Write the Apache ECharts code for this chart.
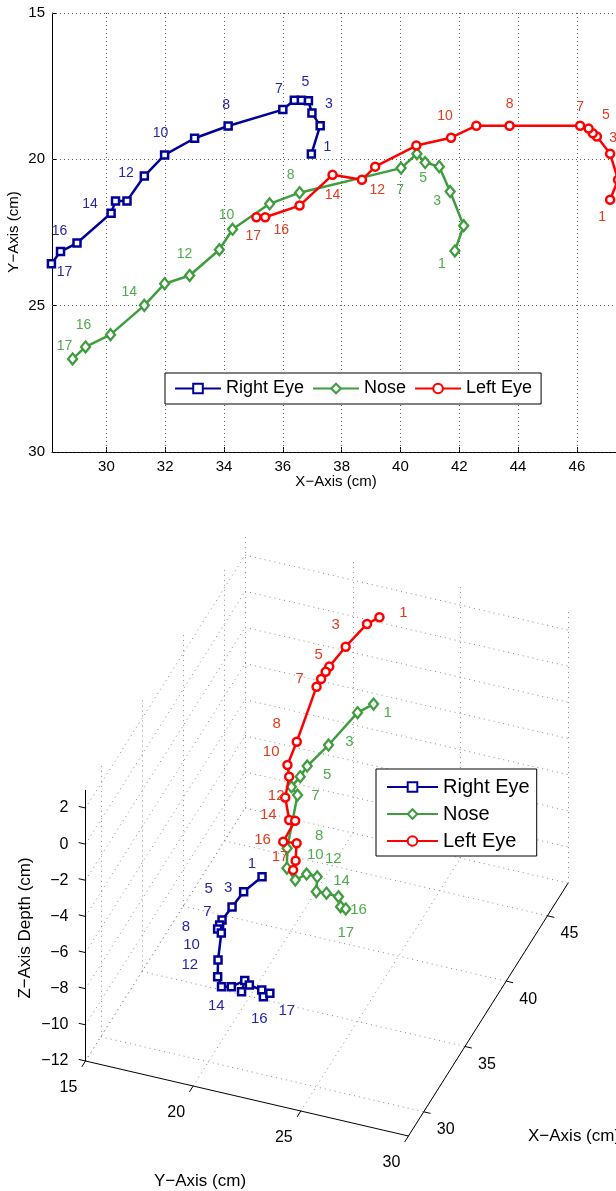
<!DOCTYPE html>
<html><head><meta charset="utf-8">
<script src="https://cdn.jsdelivr.net/npm/echarts@6/dist/echarts.min.js"></script>
<style>html,body{margin:0;padding:0;overflow:hidden;background:#fff}#c{width:640px;height:1191px}</style>
</head><body><div id="c"></div><script>
// ---------------- data ----------------
const SERIES_NAMES = ['Right Eye', 'Nose', 'Left Eye'];
const POINT_NUMBERS = [1,2,3,4,5,6,7,8,9,10,11,12,13,14,15,16,17];
const LABELLED_POINTS = [1,3,5,7,8,10,12,14,16,17];

const rightEyeX = [36.97,37.27,36.99,36.87,36.63,36.39,36.00,34.14,33.00,31.98,31.29,30.70,30.31,30.16,29.00,28.44,28.13];
const rightEyeY = [19.82,18.85,18.42,18.00,17.98,17.98,18.30,18.86,19.28,19.85,20.57,21.42,21.42,21.84,22.86,23.15,23.57];
const rightEyeZ = [-6.85,-8.16,-8.92,-9.68,-9.78,-9.83,-9.68,-9.68,-9.66,-9.32,-8.62,-7.62,-7.95,-7.36,-6.51,-6.40,-5.87];

const noseX = [41.85,42.15,41.69,41.32,40.84,40.56,40.02,36.57,35.55,34.29,33.84,32.83,31.98,31.29,30.14,29.29,28.85];
const noseY = [23.13,22.27,21.10,20.25,20.11,19.81,20.30,21.14,21.52,22.39,23.09,23.97,24.25,24.99,25.99,26.41,26.82];
const noseZ = [0.09,-0.84,-2.62,-3.75,-4.03,-4.47,-4.40,-4.62,-4.88,-4.38,-3.53,-2.71,-2.84,-2.22,-1.31,-1.13,-0.82];

const leftEyeX = [47.13,47.40,47.13,46.68,46.54,46.40,46.11,43.71,42.58,41.72,40.54,39.14,38.69,37.69,36.57,35.40,35.10];
const leftEyeY = [21.38,20.70,19.81,19.22,19.11,18.95,18.85,18.85,18.85,19.26,19.53,20.25,20.70,20.53,21.58,21.98,21.98];
const leftEyeZ = [0.59,-0.16,-1.47,-2.41,-2.62,-2.97,-3.21,-4.52,-4.99,-4.90,-5.13,-5.16,-4.75,-5.23,-4.22,-4.23,-4.52];

const X_RANGE = [28.15, 47.5];
const Y_RANGE = [15, 30];
const Z_RANGE = [-12, 3];
const X_TICKS_2D = [30,32,34,36,38,40,42,44,46];
const Y_TICKS_2D = [15,20,25,30];
const X_TICKS_3D = [30,35,40,45];
const Y_TICKS_3D = [15,20,25,30];
const Z_TICKS_3D = [-12,-10,-8,-6,-4,-2,0,2];

const X_TITLE = 'X\u2212Axis (cm)';
const Y_TITLE = 'Y\u2212Axis (cm)';
const Z_TITLE = 'Z\u2212Axis Depth (cm)';

// ---------------- styles / layout ----------------
const FONT = '"Liberation Sans", Arial, Helvetica, sans-serif';
const STYLE = {
  'Right Eye': {line: '#000099', text: '#2626a8', symbol: 'rect', size: 7, bw: 2.5},
  'Nose':      {line: '#3f9c3f', text: '#4fab4f', symbol: 'diamond', size: [9, 11], bw: 2.3},
  'Left Eye':  {line: '#ff0000', text: '#e33c1c', symbol: 'circle', size: 8, bw: 2.5}
};
const LINE_W = 2.5;
// label offsets (px) for the labelled points
const LABEL_OFFSET_2D = {
  'Right Eye': [[16,-7],[17,-9],[4,-18],[-4,-20],[-2,-21],[-4,-22],[-1,-28],[-21,-9],[-1,-20],[13,8]],
  'Nose':      [[-13,13],[-13,10],[-2,16],[-1,22],[-9,-18],[-6,-14],[-5,-21],[-15,-13],[-2,-22],[-8,-13]],
  'Left Eye':  [[-8,17],[3,-16],[13,-18],[0,-19],[0,-22],[-6,-22],[2,23],[0,20],[16,13],[-3,19]]
};
const LABEL_OFFSET_3D = {
  'Right Eye': [[-10,-13],[-4,-19],[-11,-36],[-14,-21],[-32,-33],[-30,-42],[-55,-16],[-33,21],[-4,22],[17,18]],
  'Nose':      [[14,9],[21,-3],[27,-2],[18,1],[32,-12],[20,-25],[16,-18],[15,-12],[18,3],[0,24]],
  'Left Eye':  [[24,-4],[-10,-22],[-7,-17],[-17,-8],[-20,-18],[-18,-25],[-13,-24],[-15,-27],[-33,-21],[-13,-13]]
};
// orthographic view of the 3-D box (pixels per data unit)
const VIEW = {u0: 85.5, v0: 1061, ex: [8.25, -13.07], ey: [21.53, 5.0], ez: [0, -18.07]};
const W = 640, H = 1191;

function proj(x, y, z) {
  const dx = x - X_RANGE[0], dy = y - Y_RANGE[0], dz = z - Z_RANGE[0];
  return [VIEW.u0 + VIEW.ex[0]*dx + VIEW.ey[0]*dy + VIEW.ez[0]*dz,
          VIEW.v0 + VIEW.ex[1]*dx + VIEW.ey[1]*dy + VIEW.ez[1]*dz];
}
function unit(v) { const n = Math.hypot(v[0], v[1]); return [v[0]/n, v[1]/n]; }
function fmt(v) { return v < 0 ? '\u2212' + Math.abs(v) : String(v); }

const DATA = {
  'Right Eye': [rightEyeX, rightEyeY, rightEyeZ],
  'Nose': [noseX, noseY, noseZ],
  'Left Eye': [leftEyeX, leftEyeY, leftEyeZ]
};

function textSeries(xi, yi, items, z) {
  return {
    type: 'custom', xAxisIndex: xi, yAxisIndex: yi, silent: true, z: z, clip: false,
    data: items.map(it => [it.x, it.y]),
    renderItem: (params, api) => {
      const it = items[params.dataIndex];
      const p = api.coord([it.x, it.y]);
      return {type: 'text', x: p[0] + (it.dx || 0), y: p[1] + (it.dy || 0), rotation: it.rot || 0,
        style: {text: it.text, fill: it.color || '#000', fontSize: it.size, fontFamily: FONT,
                align: it.align || 'center', verticalAlign: it.va || 'middle'}};
    }
  };
}
function dataSeries(name, xi, yi, pts, z) {
  const st = STYLE[name];
  return {type: 'line', name, xAxisIndex: xi, yAxisIndex: yi, z: z, data: pts,
    symbol: st.symbol, symbolSize: st.size, showAllSymbol: true, clip: false,
    lineStyle: {color: st.line, width: LINE_W},
    itemStyle: {color: '#fff', borderColor: st.line, borderWidth: st.bw}};
}

const series = [];

// ----- 2-D plot -----
const grid2D = [];
X_TICKS_2D.forEach(x => grid2D.push({coords: [[x, Y_RANGE[0]], [x, Y_RANGE[1]]]}));
Y_TICKS_2D.forEach(y => grid2D.push({coords: [[X_RANGE[0], y], [X_RANGE[1], y]]}));
series.push({type: 'lines', coordinateSystem: 'cartesian2d', xAxisIndex: 0, yAxisIndex: 0, silent: true, z: 1,
  lineStyle: {color: '#5a5a5a', width: 1, type: [1, 3], opacity: 1, curveness: 0}, data: grid2D});

SERIES_NAMES.forEach((name, k) => {
  const [xs, ys] = DATA[name], st = STYLE[name];
  series.push(dataSeries(name, 0, 0, xs.map((x, i) => [x, ys[i]]), 3 + k));
  const items = LABELLED_POINTS.map((n, j) => {
    const i = POINT_NUMBERS.indexOf(n);
    return {x: xs[i], y: ys[i], text: String(n), dx: LABEL_OFFSET_2D[name][j][0], dy: LABEL_OFFSET_2D[name][j][1],
            color: st.text, size: 14};
  });
  series.push(textSeries(0, 0, items, 8));
});

// ----- 3-D plot (projected) -----
const X0 = X_RANGE[0], X1 = X_RANGE[1], Y0 = Y_RANGE[0], Y1 = Y_RANGE[1], Z0 = Z_RANGE[0], Z1 = Z_RANGE[1];
const grid3D = [];
X_TICKS_3D.forEach(x => {
  grid3D.push({coords: [proj(x, Y0, Z0), proj(x, Y1, Z0)]});
  grid3D.push({coords: [proj(x, Y0, Z0), proj(x, Y0, Z1)]});
});
Y_TICKS_3D.forEach(y => {
  grid3D.push({coords: [proj(X0, y, Z0), proj(X1, y, Z0)]});
  grid3D.push({coords: [proj(X1, y, Z0), proj(X1, y, Z1)]});
});
Z_TICKS_3D.forEach(z => {
  grid3D.push({coords: [proj(X0, Y0, z), proj(X1, Y0, z)]});
  grid3D.push({coords: [proj(X1, Y0, z), proj(X1, Y1, z)]});
});
series.push({type: 'lines', coordinateSystem: 'cartesian2d', xAxisIndex: 1, yAxisIndex: 1, silent: true, z: 1,
  lineStyle: {color: '#8c8c8c', width: 1, type: [1, 4], opacity: 1, curveness: 0}, data: grid3D});

const TL = 7;
const dX = unit(VIEW.ex), dY = unit(VIEW.ey);
const axes3D = [
  {coords: [proj(X0, Y0, Z0), proj(X0, Y0, Z1)]},
  {coords: [proj(X0, Y0, Z0), proj(X0, Y1, Z0)]},
  {coords: [proj(X0, Y1, Z0), proj(X1, Y1, Z0)]}
];
const tickText3D = [];
Z_TICKS_3D.forEach(z => {
  const p = proj(X0, Y0, z);
  axes3D.push({coords: [p, [p[0] - dY[0]*TL, p[1] - dY[1]*TL]]});
  tickText3D.push({x: p[0], y: p[1], text: fmt(z), dx: -17, dy: 0, align: 'right', size: 16});
});
Y_TICKS_3D.forEach(y => {
  const p = proj(X0, y, Z0);
  axes3D.push({coords: [p, [p[0] - dX[0]*TL, p[1] - dX[1]*TL]]});
  tickText3D.push({x: p[0], y: p[1], text: fmt(y), dx: -17, dy: 27, size: 16});
});
X_TICKS_3D.forEach(x => {
  const p = proj(x, Y1, Z0);
  axes3D.push({coords: [p, [p[0] + dY[0]*TL, p[1] + dY[1]*TL]]});
  tickText3D.push({x: p[0], y: p[1], text: fmt(x), dx: 22, dy: 18, size: 16});
});
series.push({type: 'lines', coordinateSystem: 'cartesian2d', xAxisIndex: 1, yAxisIndex: 1, silent: true, z: 2,
  lineStyle: {color: '#000', width: 1, opacity: 1, curveness: 0}, data: axes3D});
series.push(textSeries(1, 1, tickText3D, 2));

SERIES_NAMES.forEach((name, k) => {
  const [xs, ys, zs] = DATA[name], st = STYLE[name];
  series.push(dataSeries(name, 1, 1, xs.map((x, i) => proj(x, ys[i], zs[i])), 3 + k));
  const items = LABELLED_POINTS.map((n, j) => {
    const i = POINT_NUMBERS.indexOf(n);
    const p = proj(xs[i], ys[i], zs[i]);
    return {x: p[0], y: p[1], text: String(n), dx: LABEL_OFFSET_3D[name][j][0], dy: LABEL_OFFSET_3D[name][j][1],
            color: st.text, size: 15};
  });
  series.push(textSeries(1, 1, items, 8));
});

const option = {
  animation: false,
  backgroundColor: '#fff',
  grid: [
    {left: 52, top: 13, width: 569, height: 439},
    {left: 0, top: 0, width: W, height: H}
  ],
  xAxis: [
    {type: 'value', gridIndex: 0, min: X_RANGE[0], max: X_RANGE[1],
     axisLine: {onZero: false, lineStyle: {color: '#000', width: 1}},
     axisTick: {inside: true, length: 5, customValues: X_TICKS_2D, lineStyle: {color: '#000'}},
     axisLabel: {customValues: X_TICKS_2D, color: '#000', fontSize: 15, fontFamily: FONT, margin: 7},
     splitLine: {show: false}},
    {type: 'value', gridIndex: 1, min: 0, max: W, show: false}
  ],
  yAxis: [
    {type: 'value', gridIndex: 0, min: Y_RANGE[0], max: Y_RANGE[1], interval: 5, inverse: true,
     axisLine: {show: true, onZero: false, lineStyle: {color: '#000', width: 1}},
     axisTick: {show: true, inside: true, length: 5, lineStyle: {color: '#000'}},
     axisLabel: {color: '#000', fontSize: 15, fontFamily: FONT, margin: 7},
     splitLine: {show: false}},
    {type: 'value', gridIndex: 1, min: 0, max: H, inverse: true, show: false}
  ],
  legend: [
    {data: SERIES_NAMES, orient: 'horizontal', left: 165, top: 373, itemWidth: 46, itemHeight: 12, itemGap: 8,
     padding: [5, 9, 5, 9], borderColor: '#000', borderWidth: 1, backgroundColor: '#fff', selectedMode: false,
     textStyle: {color: '#000', fontSize: 18, fontFamily: FONT, lineHeight: 21}},
    {data: SERIES_NAMES, orient: 'vertical', left: 376, top: 769, itemWidth: 51, itemHeight: 12, itemGap: 3,
     padding: [6, 7, 3, 10], borderColor: '#000', borderWidth: 1, backgroundColor: '#fff', selectedMode: false,
     textStyle: {color: '#000', fontSize: 20, fontFamily: FONT, lineHeight: 24}}
  ],
  graphic: [
    {type: 'text', x: 336, y: 482, style: {text: X_TITLE, fill: '#000', fontSize: 15, fontFamily: FONT, align: 'center', verticalAlign: 'middle'}},
    {type: 'text', x: 14, y: 232, rotation: Math.PI / 2, style: {text: Y_TITLE, fill: '#000', fontSize: 15, fontFamily: FONT, align: 'center', verticalAlign: 'middle'}},
    {type: 'text', x: 200, y: 1181, style: {text: Y_TITLE, fill: '#000', fontSize: 17, fontFamily: FONT, align: 'center', verticalAlign: 'middle'}},
    {type: 'text', x: 528, y: 1136, style: {text: X_TITLE, fill: '#000', fontSize: 17, fontFamily: FONT, align: 'left', verticalAlign: 'middle'}},
    {type: 'text', x: 25, y: 928, rotation: Math.PI / 2, style: {text: Z_TITLE, fill: '#000', fontSize: 17, fontFamily: FONT, align: 'center', verticalAlign: 'middle'}}
  ],
  series
};
const chart = echarts.init(document.getElementById('c'));
chart.setOption(option);
</script></body></html>
